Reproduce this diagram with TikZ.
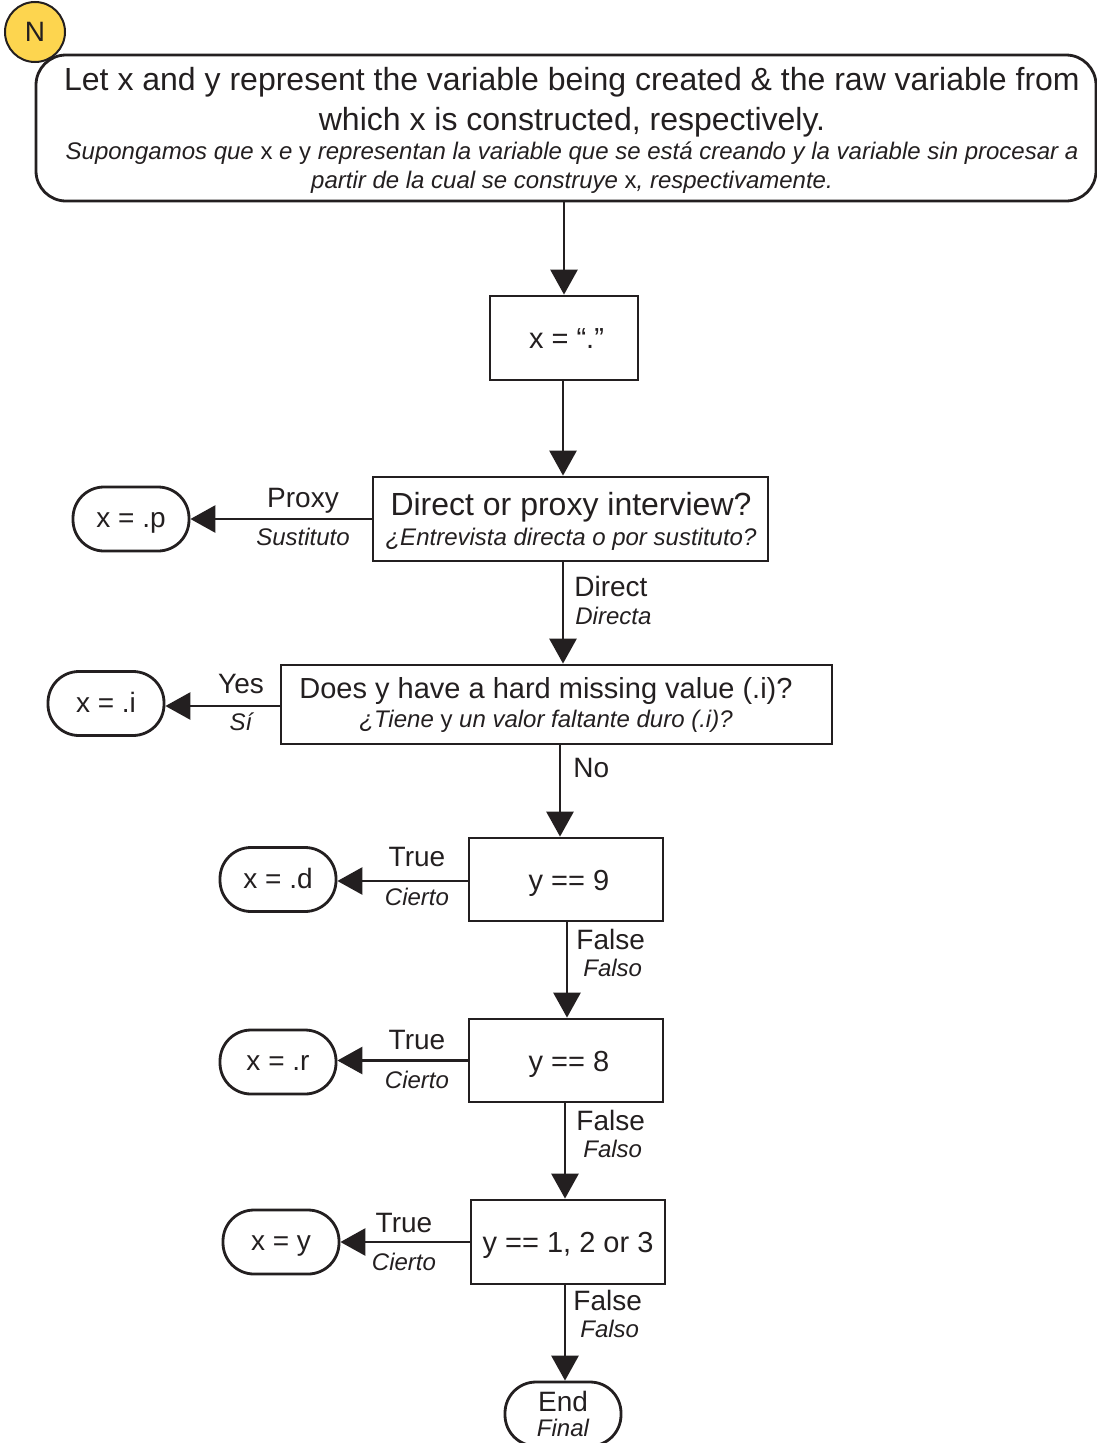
\documentclass[tikz,border=0pt]{standalone}
\usepackage{fontspec}
\setmainfont{Liberation Sans}
\usetikzlibrary{arrows.meta}
\definecolor{nyellow}{RGB}{253,213,79}
\definecolor{ink}{RGB}{35,31,32}
\newcommand\bigf{\fontsize{32}{38}\selectfont}
\newcommand\boxf{\fontsize{29}{34}\selectfont}
\newcommand\medf{\fontsize{28}{33}\selectfont}
\newcommand\itf{\fontsize{24}{29}\selectfont\itshape}
\newcommand\vv[1]{{\upshape #1}}
\begin{document}
\begin{tikzpicture}[x=1pt,y=-1pt,
  line width=2.8pt, draw=ink, text=ink,
  proc/.style={draw=ink, rectangle, inner sep=0pt},
  onel/.style={text height=21pt, text depth=0pt},
  term/.style={draw=ink, rectangle, rounded corners=31pt, minimum width=116pt, minimum height=64pt, inner sep=0pt, font=\medf},
  termt/.style={text height=17pt, text depth=0pt},
  conn/.style={draw=ink, -{Triangle[width=27pt,length=25pt]}},
  lbl/.style={inner sep=0pt, font=\medf},
  ilbl/.style={inner sep=0pt, font=\itf},
]
\useasboundingbox (0,0) rectangle (1097,1443);
\clip (0,0) rectangle (1097,1443);

% top note
\node[draw=ink, rounded corners=30pt, minimum width=1060pt, minimum height=146pt] (T) at (566,128) {};
\node[inner sep=0pt, align=center, font=\fontsize{24}{29}\selectfont] (Tt) at (572,130.5)
  {{\bigf Let x and y represent the variable being created \& the raw variable from}\\[9pt]
   {\bigf which x is constructed, respectively.}\\
   {\itf Supongamos que \vv{x} e \vv{y} representan la variable que se está creando y la variable sin procesar a}\\
   {\itf partir de la cual se construye \vv{x}, respectivamente.}};
\node[circle, draw=ink, fill=nyellow, minimum size=60pt, inner sep=0pt, line width=2pt, font=\medf] (N) at (35,32) {N};

% process boxes
\node[proc, minimum width=148pt, minimum height=84pt, font=\boxf, onel] (B1) at (564,338) {\hspace*{5pt}x = “.”};
\node[proc, minimum width=395pt, minimum height=84pt] (B2) at (570.5,519) {};
\node[inner sep=0pt, align=center, font=\fontsize{24}{30}\selectfont] (B2t) at (571,521.5)
  {{\bigf Direct or proxy interview?}\\{\itf ¿Entrevista directa o por sustituto?}};
\node[proc, minimum width=551pt, minimum height=79pt] (B3) at (556.5,704.5) {};
\node[inner sep=0pt, align=center, font=\fontsize{24}{29}\selectfont] (B3t) at (546,704.5)
  {{\boxf Does y have a hard missing value (.i)?}\\{\itf ¿Tiene \vv{y} un valor faltante duro (.i)?}};
\node[proc, minimum width=194pt, minimum height=83pt, font=\boxf, onel] (B4) at (566,879.5) {\hspace*{6pt}y == 9};
\node[proc, minimum width=194pt, minimum height=83pt, font=\boxf, onel] (B5) at (566,1060.5) {\hspace*{6pt}y == 8};
\node[proc, minimum width=194pt, minimum height=84pt, font=\boxf, onel] (B6) at (568,1242) {y == 1, 2 or 3};

% terminals
\node[term, termt] (Tp) at (131,519) {x = .p};
\node[term, termt] (Ti) at (106,703.5) {x = .i};
\node[term, termt] (Td) at (278,879.5) {x = .d};
\node[term, termt] (Tr) at (278,1062) {x = .r};
\node[term, termt] (Ty) at (281,1242) {x = y};
\node[term, align=center, font=\fontsize{24}{25}\selectfont] (End) at (563,1414) {{\medf End}\\{\itf Final}};

% connectors
\draw[conn] (T.south -| B1.north) -- (B1.north);
\draw[conn] ([xshift=-1pt]B1.south) -- ([xshift=-1pt]B1.south |- B2.north);
\draw[conn] (B2.west) -- (B2.west -| Tp.east);
\draw[conn] ([xshift=-7.5pt]B2.south) -- ([xshift=-7.5pt]B2.south |- B3.north);
\draw[conn] ([yshift=-1.5pt]B3.west) -- ([yshift=-1.5pt]B3.west -| Ti.east);
\draw[conn] ([xshift=3.5pt]B3.south) -- ([xshift=3.5pt]B3.south |- B4.north);
\draw[conn] ([yshift=-1.5pt]B4.west) -- ([yshift=-1.5pt]B4.west -| Td.east);
\draw[conn] ([xshift=1pt]B4.south) -- ([xshift=1pt]B4.south |- B5.north);
\draw[conn] (B5.west) -- (B5.west -| Tr.east);
\draw[conn] ([xshift=-1pt]B5.south) -- ([xshift=-1pt]B5.south |- B6.north);
\draw[conn] (B6.west) -- (B6.west -| Ty.east);
\draw[conn] ([xshift=-3pt]B6.south) -- ([xshift=-3pt]B6.south |- End.north);

% labels
\node[lbl, anchor=base] (l1) at (303,507) {Proxy};
\node[ilbl, anchor=base] (l1s) at (303,545) {Sustituto};
\node[lbl, anchor=base west] (l2) at (573,596) {Direct};
\node[ilbl, anchor=base west] (l2s) at (574,624) {Directa};
\node[lbl, anchor=base] (l3) at (241,693) {Yes};
\node[ilbl, anchor=base] (l3s) at (241,730) {Sí};
\node[lbl, anchor=base west] (l4) at (572,777) {No};
\node[lbl, anchor=base] (l5) at (417,866) {True};
\node[ilbl, anchor=base] (l5s) at (417,905) {Cierto};
\node[lbl, anchor=base west] (l6) at (575,949) {False};
\node[ilbl, anchor=base west] (l6s) at (582,976) {Falso};
\node[lbl, anchor=base] (l7) at (417,1049) {True};
\node[ilbl, anchor=base] (l7s) at (417,1088) {Cierto};
\node[lbl, anchor=base west] (l8) at (575,1130) {False};
\node[ilbl, anchor=base west] (l8s) at (582,1157) {Falso};
\node[lbl, anchor=base] (l9) at (404,1232) {True};
\node[ilbl, anchor=base] (l9s) at (404,1270) {Cierto};
\node[lbl, anchor=base west] (l10) at (572,1310) {False};
\node[ilbl, anchor=base west] (l10s) at (579,1337) {Falso};
\end{tikzpicture}
\end{document}
